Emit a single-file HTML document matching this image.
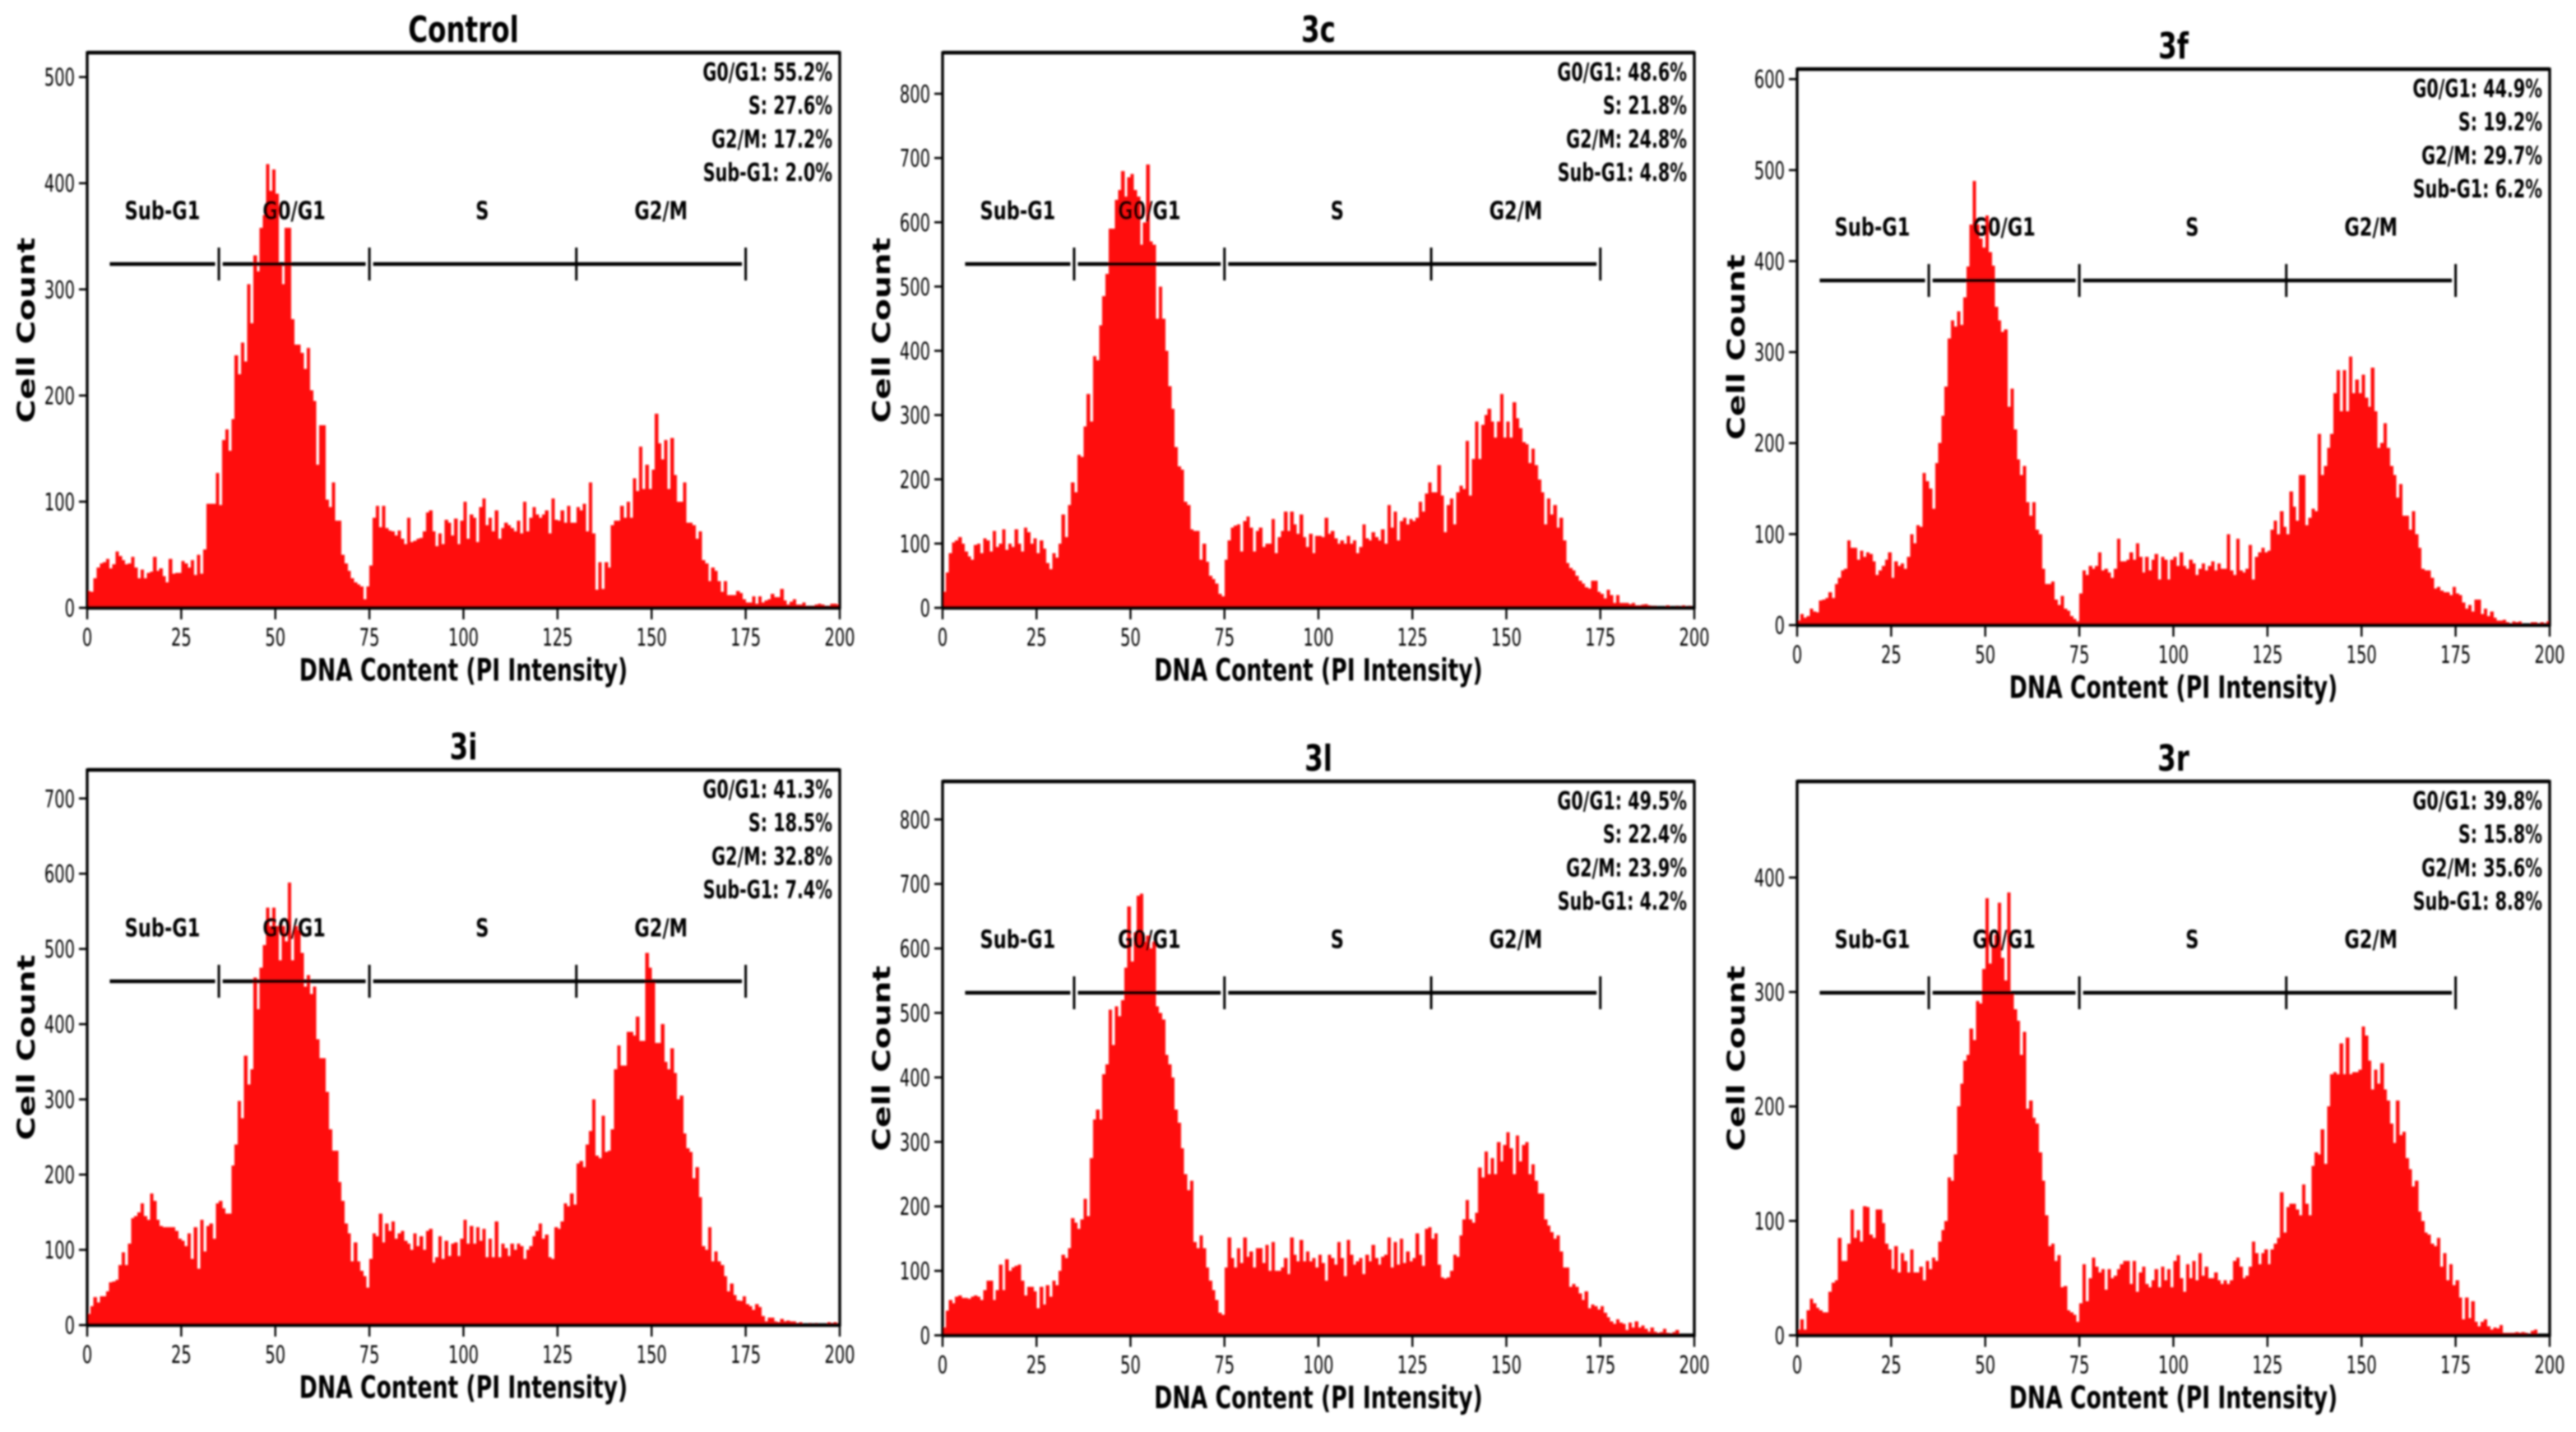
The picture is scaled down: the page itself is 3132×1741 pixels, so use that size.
<!DOCTYPE html>
<html lang="en">
<head>
<meta charset="utf-8">
<title>Cell cycle DNA content histograms</title>
<style>
html,body{margin:0;padding:0;background:#fff;width:3132px;height:1741px;overflow:hidden}
svg{display:block}
text{font-family:"DejaVu Sans","Liberation Sans",sans-serif;fill:#000}
</style>
</head>
<body>
<svg id="figure" xmlns="http://www.w3.org/2000/svg" width="3132" height="1741" viewBox="0 0 3132 1741">
<defs><filter id="soft" filterUnits="userSpaceOnUse" x="0" y="0" width="3132" height="1741"><feGaussianBlur stdDeviation="1"/></filter></defs>
<rect width="3132" height="1741" fill="#fff"/>
<g id="root" filter="url(#soft)"></g>
</svg>
<script>
const xTicks = [0,25,50,75,100,125,150,175,200];
const gateEdges = [35,75,130,175];
const gateLabels = ['Sub-G1','G0/G1','S','G2/M'];
const gateLabelCenters = [20,55,105,152.5];

const controlCounts = [
16,15,28,38,42,43,46,37,41,53,49,45,41,42,48,38,28,36,28,33,34,48,35,37,30,24,46,32,33,33,
44,42,38,45,31,50,32,55,98,98,98,127,97,158,168,148,178,238,220,250,232,305,268,332,317,358,370,418,393,413,
390,325,305,358,358,272,248,248,240,225,245,205,195,135,172,172,102,95,118,82,82,50,42,35,28,24,22,20,8,20,
40,85,96,76,96,75,73,72,68,73,65,60,85,62,63,65,66,72,90,92,72,58,70,60,83,80,68,84,60,82,
100,65,88,85,62,95,103,78,85,72,92,65,75,80,78,75,72,82,70,100,72,85,95,88,85,88,92,70,103,83,
82,92,80,96,80,80,95,92,98,72,118,70,17,43,18,43,38,78,82,82,96,85,100,85,122,110,152,112,135,112,
130,183,155,140,158,112,160,125,100,100,118,80,80,78,65,72,45,42,25,38,35,25,15,25,12,12,12,16,14,8,
5,5,11,4,11,5,7,8,13,10,10,18,7,3,6,8,3,3,5,2,2,2,3,4,3,2,2,4,4,3];

const counts3c = [
25,55,85,102,105,110,100,88,80,75,98,100,85,108,105,88,120,95,100,122,90,100,95,122,100,88,125,118,100,108,
85,105,92,70,60,85,78,100,145,110,160,195,180,238,235,282,333,290,392,385,440,485,520,590,590,635,650,680,640,670,
675,650,640,565,600,690,570,565,450,500,450,400,345,310,250,220,215,165,160,122,120,120,75,100,72,50,45,38,22,18,
75,105,125,128,130,88,135,142,125,88,120,125,95,100,100,138,85,110,120,150,120,150,130,115,145,110,95,115,85,112,
112,110,140,115,120,108,100,105,100,112,100,105,85,95,130,108,105,118,110,105,122,100,160,125,150,105,135,140,130,138,
135,140,165,150,178,195,180,180,222,175,118,160,170,130,180,190,185,260,175,232,290,232,285,300,310,290,265,290,333,265,
290,265,320,295,280,258,255,225,248,222,200,180,130,170,145,160,125,140,105,70,62,58,50,42,38,32,30,42,42,25,
22,15,28,20,8,20,8,8,8,6,8,4,4,5,6,4,3,3,2,2,2,4,2,2,3,2,4,2,3,1];

const counts3f = [
5,12,8,10,18,15,14,27,28,30,36,30,45,52,60,62,93,85,85,72,82,75,80,78,70,55,60,65,72,80,
52,70,65,68,62,75,100,90,110,108,167,158,150,128,178,200,230,262,315,335,328,345,330,360,394,440,488,440,425,415,
450,410,395,350,335,322,325,240,260,215,182,165,175,135,120,135,105,100,62,45,45,48,28,22,32,18,16,10,7,4,
35,60,55,65,62,65,80,60,62,58,52,62,95,70,70,72,80,72,90,75,58,75,60,72,78,50,75,72,50,72,
75,65,80,65,62,72,68,55,62,68,60,65,70,60,68,62,62,100,60,55,95,60,58,62,88,50,75,80,85,80,
82,105,115,100,125,108,100,147,130,115,165,165,110,118,128,125,210,165,175,195,210,255,280,235,280,235,295,255,270,255,
275,250,240,283,235,195,200,222,195,175,165,140,155,120,120,105,125,100,85,62,60,60,52,40,42,38,36,36,33,42,
35,33,25,18,22,15,28,28,12,18,10,15,8,5,5,6,3,2,4,3,4,2,2,2,3,3,2,3,2,4];

const counts3i = [
15,25,37,30,38,38,45,57,58,60,80,97,80,108,142,145,150,162,145,140,175,165,140,132,130,130,130,130,125,115,
112,105,122,88,130,75,140,98,132,135,115,162,165,155,148,148,212,240,298,275,358,320,340,462,420,475,505,555,530,555,
530,485,530,510,588,485,530,525,495,450,465,440,450,380,355,355,310,260,232,232,190,165,135,122,85,110,85,72,65,50,
88,122,118,148,110,135,125,138,115,122,125,112,108,100,122,105,118,100,125,128,83,90,118,88,112,92,108,110,92,115,
140,108,132,108,130,112,128,90,115,90,138,90,108,102,92,108,100,108,105,88,100,105,118,125,135,115,120,90,88,130,
128,138,162,158,175,160,215,218,210,240,258,300,225,222,278,230,232,260,340,372,345,345,390,390,385,410,378,378,495,475,
460,375,375,400,350,340,368,335,300,305,255,235,230,195,210,170,105,100,130,85,98,85,80,65,45,55,40,33,32,38,
28,25,20,28,24,12,5,10,10,5,4,8,5,6,5,5,3,4,2,2,3,2,3,2,2,2,4,3,4,2];

const counts3l = [
12,38,55,50,60,62,58,58,57,60,62,60,55,70,85,85,55,70,110,70,118,100,105,108,110,85,62,75,75,68,
42,75,48,78,60,85,78,100,125,120,135,182,175,165,180,212,185,275,335,350,335,405,420,505,450,510,495,520,570,665,
580,625,682,685,610,620,600,610,510,500,490,435,420,400,350,330,290,250,225,240,145,135,155,135,105,85,70,55,35,32,
105,152,120,105,135,112,152,122,130,105,135,135,112,140,100,145,100,100,105,120,95,152,125,115,148,115,130,115,120,105,
125,112,85,125,120,110,145,120,92,148,125,110,115,120,95,125,115,140,120,110,122,125,152,105,145,110,150,112,130,115,
120,158,125,108,165,168,150,158,110,90,88,90,100,125,122,155,180,210,180,175,190,260,245,285,250,275,250,300,270,295,
315,290,250,310,270,295,300,250,265,240,220,220,180,170,160,150,155,130,105,105,75,80,75,65,55,68,42,48,45,40,
45,35,28,22,18,25,20,18,8,20,12,22,12,15,10,6,12,6,4,5,10,4,3,5,8,2,2,2,1,1];

const counts3r = [
5,14,5,22,32,28,24,22,20,20,38,46,48,85,65,65,80,110,85,92,82,113,112,88,85,110,110,98,80,75,
58,78,55,72,65,55,75,55,55,60,48,65,58,68,65,82,92,100,138,135,158,200,220,240,245,268,258,292,290,320,
382,325,340,350,378,330,310,387,300,285,275,245,265,198,205,190,185,160,135,105,78,80,65,70,42,43,22,20,18,12,
28,62,30,50,68,60,55,58,40,58,50,52,58,62,65,65,45,65,38,55,60,45,42,48,58,42,60,48,58,42,
65,70,50,38,62,50,65,48,72,52,60,50,50,55,48,45,48,45,48,65,68,60,50,52,60,82,72,62,72,75,
62,75,80,85,125,90,112,115,115,110,105,132,115,105,148,160,158,180,150,200,228,230,228,255,228,260,228,230,230,232,
270,262,240,215,232,220,238,215,205,185,168,205,175,178,155,145,130,135,108,100,90,88,80,78,85,60,72,48,62,44,
48,33,14,33,15,30,12,8,12,14,8,5,7,6,9,2,2,2,2,3,2,3,2,1,4,5,1,1,1,1];

const yTicksControl = [0,100,200,300,400,500];
const yTicks3c = [0,100,200,300,400,500,600,700,800];
const yTicks3f = [0,100,200,300,400,500,600];
const yTicks3i = [0,100,200,300,400,500,600,700];
const yTicks3l = [0,100,200,300,400,500,600,700,800];
const yTicks3r = [0,100,200,300,400];

const statsControl = ['G0/G1: 55.2%','S: 27.6%','G2/M: 17.2%','Sub-G1: 2.0%'];
const stats3c = ['G0/G1: 48.6%','S: 21.8%','G2/M: 24.8%','Sub-G1: 4.8%'];
const stats3f = ['G0/G1: 44.9%','S: 19.2%','G2/M: 29.7%','Sub-G1: 6.2%'];
const stats3i = ['G0/G1: 41.3%','S: 18.5%','G2/M: 32.8%','Sub-G1: 7.4%'];
const stats3l = ['G0/G1: 49.5%','S: 22.4%','G2/M: 23.9%','Sub-G1: 4.2%'];
const stats3r = ['G0/G1: 39.8%','S: 15.8%','G2/M: 35.6%','Sub-G1: 8.8%'];

const BIN_WIDTH = 200 / 240;
const NS = 'http://www.w3.org/2000/svg';
const root = document.getElementById('root');

function svgEl(parent, tag, attrs) {
  const el = document.createElementNS(NS, tag);
  for (const k in attrs) el.setAttribute(k, attrs[k]);
  parent.appendChild(el);
  return el;
}
function label(parent, str, x, y, size, weight, sx, anchor, extra) {
  const el = svgEl(parent, 'text', {
    'font-size': size,
    'font-weight': weight,
    'text-anchor': anchor,
    transform: 'translate(' + x + ',' + y + ')' + (extra || '') + ' scale(' + sx + ',1)'
  });
  el.textContent = str;
  return el;
}
function drawPanel(name, title, box, yMax, counts, yTicks, stats) {
  const g = svgEl(root, 'g', {});
  
  
  const xs = v => box.left + (v / 200) * (box.right - box.left);
  const ys = v => box.bottom - (v / yMax) * (box.bottom - box.top);

  const bars = svgEl(g, 'g', {fill: '#ff0f0f', 'shape-rendering': 'crispEdges'});
  
  
  counts.forEach((c, i) => {
    const x0 = xs(i * BIN_WIDTH), x1 = xs((i + 1) * BIN_WIDTH);
    const bar = svgEl(bars, 'rect', {x: x0, y: ys(c), width: x1 - x0 + 0.4, height: box.bottom - ys(c)});
    
    
  });

  const frame = svgEl(g, 'rect', {x: box.left, y: box.top, width: box.right - box.left, height: box.bottom - box.top, fill: 'none', stroke: '#000', 'stroke-width': 3.4});
  
  
  const topEdge = svgEl(g, 'line', {x1: box.left, x2: box.right, y1: box.top, y2: box.top, stroke: '#000', 'stroke-width': 4.4});
  
  
  const base = svgEl(g, 'line', {x1: box.left, x2: box.right, y1: box.bottom, y2: box.bottom, stroke: '#000', 'stroke-width': 4.4});
  
  

  xTicks.forEach(t => {
    const tick = svgEl(g, 'line', {x1: xs(t), x2: xs(t), y1: box.bottom, y2: box.bottom + 14, stroke: '#000', 'stroke-width': 2.4});
    
    
    const tl = label(g, String(t), xs(t), box.bottom + 46, 29, 400, 0.67, 'middle');
    
    
  });
  yTicks.forEach(t => {
    const tick = svgEl(g, 'line', {x1: box.left - 10, x2: box.left, y1: ys(t), y2: ys(t), stroke: '#000', 'stroke-width': 2.6});
    
    
    const tl = label(g, String(t), box.left - 15, ys(t) + 10.5, 29, 400, 0.67, 'end');
    
    
  });

  const gateY = box.top + 257;
  const gateSegments = [[6,34],[36,74],[76,174]];
  gateSegments.forEach(s => {
    const seg = svgEl(g, 'line', {x1: xs(s[0]), x2: xs(s[1]), y1: gateY, y2: gateY, stroke: '#000', 'stroke-width': 4.6});
    
    
  });
  gateEdges.forEach(e => {
    const m = svgEl(g, 'line', {x1: xs(e), x2: xs(e), y1: gateY - 20, y2: gateY + 20, stroke: '#000', 'stroke-width': 3});
    
    
  });
  gateLabels.forEach((t, i) => {
    const gl = label(g, t, xs(gateLabelCenters[i]), box.top + 202.5, 30, 700, 0.75, 'middle');
    
    
  });
  stats.forEach((t, i) => {
    const st = label(g, t, box.right - 9, box.top + 34 + i * 40.7, 30, 700, 0.69, 'end');
    
    
  });

  const cx = (box.left + box.right) / 2;
  const tt = label(g, title, cx, box.top - 13, 44, 700, 0.74, 'middle');
  
  
  const xl = label(g, 'DNA Content (PI Intensity)', cx, box.bottom + 88.5, 37, 700, 0.72, 'middle');
  
  
  const yl = label(g, 'Cell Count', box.left - 64, (box.top + box.bottom) / 2, 29, 700, 1.35, 'middle', ' rotate(-90)');
  
  
}

drawPanel('control', 'Control', {left: 106, right: 1021, top: 64, bottom: 739}, 523, controlCounts, yTicksControl, statsControl);
drawPanel('3c', '3c', {left: 1146, right: 2060, top: 64, bottom: 739}, 864, counts3c, yTicks3c, stats3c);
drawPanel('3f', '3f', {left: 2185, right: 3100, top: 84, bottom: 760}, 611, counts3f, yTicks3f, stats3f);
drawPanel('3i', '3i', {left: 106, right: 1021, top: 936, bottom: 1611}, 738, counts3i, yTicks3i, stats3i);
drawPanel('3l', '3l', {left: 1146, right: 2060, top: 950, bottom: 1623.5}, 859, counts3l, yTicks3l, stats3l);
drawPanel('3r', '3r', {left: 2185, right: 3100, top: 950, bottom: 1623.5}, 484, counts3r, yTicks3r, stats3r);
</script>
</body>
</html>
